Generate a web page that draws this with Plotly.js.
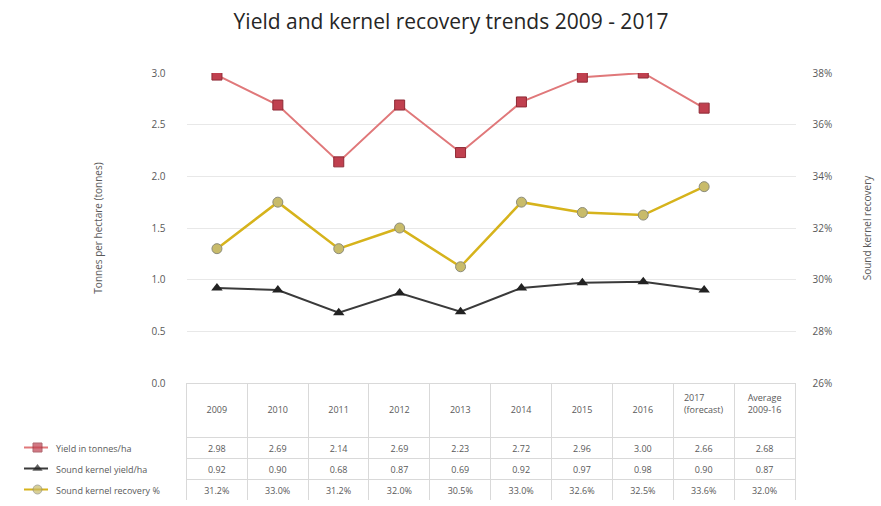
<!DOCTYPE html>
<html>
<head>
<meta charset="utf-8">
<script src="https://cdn.plot.ly/plotly-3.0.1.min.js"></script>
<style>html,body{margin:0;padding:0;background:#fff;}#chart{width:881px;height:506px;}</style>
</head>
<body>
<div id="chart"></div>
<script>
// ---- data ----
var columnLabels = ["2009", "2010", "2011", "2012", "2013", "2014", "2015", "2016", "2017<br>(forecast)", "Average<br>2009-16"];
var seriesNames = ["Yield in tonnes/ha", "Sound kernel yield/ha", "Sound kernel recovery %"];
var yieldNIS = [2.98, 2.69, 2.14, 2.69, 2.23, 2.72, 2.96, 3.00, 2.66];
var kernelYield = [0.92, 0.90, 0.68, 0.87, 0.69, 0.92, 0.97, 0.98, 0.90];
var kernelRecovery = [31.2, 33.0, 31.2, 32.0, 30.5, 33.0, 32.6, 32.5, 33.6];
var avgYield = 2.68;
var avgKernel = 0.87;
var avgRecovery = 32.0;

// ---- styles ----
var redLine = "#e0787a", redMarker = "#c0404f", redBorder = "#8f2a36";
var blackLine = "#3a3a3a", blackMarker = "#222222";
var goldLine = "#d6b31c", goldMarker = "#c8bb6a", goldBorder = "#8c8c7a";
var FONT = "Open Sans, Lato, sans-serif";

var W = 881, H = 506;
var plotL = 186.5, plotR = 795.5, plotT = 73, plotB = 383;
var tableT = 383, headerH = 54, rowH = 21;
var legendColL = 48;

var xcats = columnLabels;
var lineX = xcats.slice(0, yieldNIS.length);

var traces = [];
traces.push({
  type: "scatter", mode: "lines+markers", x: lineX, y: yieldNIS, name: seriesNames[0],
  line: {color: redLine, width: 2},
  marker: {symbol: "square", size: 10, color: redMarker, line: {color: redBorder, width: 1}},
  xaxis: "x", yaxis: "y", hoverinfo: "skip"
});
traces.push({
  type: "scatter", mode: "lines+markers", x: lineX, y: kernelYield, name: seriesNames[1],
  line: {color: blackLine, width: 2},
  marker: {symbol: "triangle-up", size: 10, color: blackMarker},
  xaxis: "x", yaxis: "y", hoverinfo: "skip"
});
traces.push({
  type: "scatter", mode: "lines+markers", x: lineX, y: kernelRecovery, name: seriesNames[2],
  line: {color: goldLine, width: 2.5},
  marker: {symbol: "circle", size: 10, color: goldMarker, line: {color: goldBorder, width: 1}},
  xaxis: "x", yaxis: "y2", hoverinfo: "skip"
});

// ---- table ----
var firstCol = seriesNames.slice();
var colVals = [firstCol];
for (var i = 0; i < yieldNIS.length; i++) {
  colVals.push([yieldNIS[i].toFixed(2), kernelYield[i].toFixed(2), kernelRecovery[i].toFixed(1) + "%"]);
}
colVals.push([avgYield.toFixed(2), avgKernel.toFixed(2), avgRecovery.toFixed(1) + "%"]);
var headerVals = [""].concat(columnLabels.map(function (s) {
  return s.indexOf("<br>") >= 0 ? s : "\u00a0<br>" + s;
}));
var colW = (plotR - plotL) / columnLabels.length;
var widths = [plotL - legendColL];
var lineCols = ["rgba(0,0,0,0)"];
var headFills = ["rgba(0,0,0,0)"];
var aligns = ["left"];
for (var j = 0; j < columnLabels.length; j++) { widths.push(colW); lineCols.push("#d9d9d9"); headFills.push("#ffffff"); aligns.push("center"); }

traces.push({
  type: "table",
  domain: {x: [legendColL / W, plotR / W], y: [(H - (tableT + headerH + 3 * rowH)) / H, (H - tableT) / H]},
  columnwidth: widths,
  header: {
    values: headerVals, height: headerH, align: "center",
    fill: {color: headFills}, line: {color: lineCols, width: 1},
    font: {family: FONT, size: 9, color: "#595959"}
  },
  cells: {
    values: colVals, height: rowH, align: aligns,
    fill: {color: "#ffffff"}, line: {color: lineCols, width: 1},
    font: {family: FONT, size: 9, color: "#595959"}
  }
});

// ---- legend keys inside the table ----
var keyStyles = [
  {line: redLine, marker: {symbol: "square", color: redMarker, line: {color: redBorder, width: 1}}},
  {line: blackLine, marker: {symbol: "triangle-up", color: blackMarker}},
  {line: goldLine, marker: {symbol: "circle", color: goldMarker, line: {color: goldBorder, width: 1}}}
];
for (var k = 0; k < seriesNames.length; k++) {
  var yy = seriesNames.length - k - 0.5;
  var m = keyStyles[k].marker;
  traces.push({
    type: "scatter", mode: "lines+markers", x: [0, 1, 2], y: [yy, yy, yy],
    line: {color: keyStyles[k].line, width: 2},
    marker: {symbol: m.symbol, color: m.color, line: m.line || {width: 0}, size: [0, 9, 0]},
    xaxis: "x2", yaxis: "y3", hoverinfo: "skip", showlegend: false
  });
}

var layout = {
  width: W, height: H,
  margin: {l: 0, r: 0, t: 0, b: 0},
  paper_bgcolor: "#ffffff", plot_bgcolor: "#ffffff",
  showlegend: false,
  font: {family: FONT, color: "#595959"},
  title: {
    text: "Yield and kernel recovery trends 2009 - 2017",
    font: {family: FONT, size: 21, color: "#262626"},
    x: 451 / W, xanchor: "center", y: 1 - 22 / H, yanchor: "middle"
  },
  xaxis: {
    type: "category", categoryorder: "array", categoryarray: xcats,
    range: [-0.5, xcats.length - 0.5],
    domain: [plotL / W, plotR / W],
    showticklabels: false, showgrid: false, zeroline: false, showline: false, ticks: "",
    anchor: "y"
  },
  yaxis: {
    domain: [(H - plotB) / H, (H - plotT) / H],
    range: [0, 3.0], dtick: 0.5, tickformat: ".1f",
    showgrid: true, gridcolor: "#e8e8e8", gridwidth: 1, zeroline: false,
    ticks: "", ticklabelstandoff: 20,
    tickfont: {family: FONT, size: 10, color: "#595959"},
    title: {text: "Tonnes per hectare (tonnes)", font: {family: FONT, size: 10, color: "#595959"}, standoff: 46}
  },
  yaxis2: {
    overlaying: "y", side: "right", anchor: "x",
    range: [26, 38], dtick: 2, ticksuffix: "%",
    showgrid: false, zeroline: false, ticks: "", ticklabelstandoff: 16,
    tickfont: {family: FONT, size: 10, color: "#595959"},
    title: {text: "Sound kernel recovery", font: {family: FONT, size: 10, color: "#595959"}, standoff: 32}
  },
  xaxis2: {
    domain: [24 / W, 51 / W], range: [0, 2], anchor: "y3",
    visible: false, fixedrange: true
  },
  yaxis3: {
    domain: [(H - (tableT + headerH + 3 * rowH)) / H, (H - (tableT + headerH)) / H],
    range: [0, 3], anchor: "x2", visible: false, fixedrange: true
  }
};

Plotly.newPlot("chart", traces, layout, {displayModeBar: false, staticPlot: true});
</script>
</body>
</html>
